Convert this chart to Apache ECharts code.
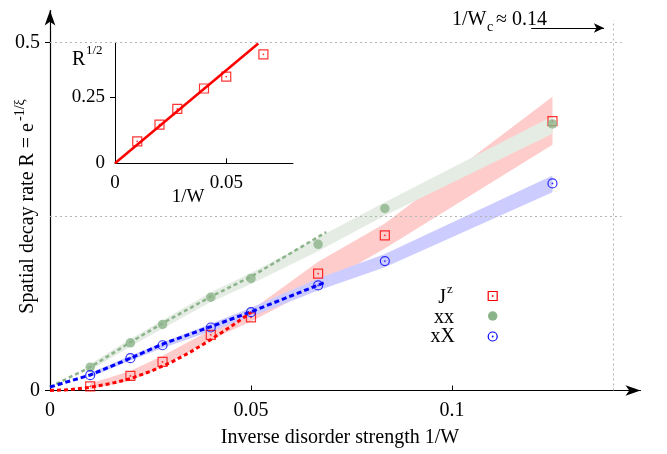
<!DOCTYPE html>
<html><head><meta charset="utf-8">
<script src="https://cdn.jsdelivr.net/npm/echarts@6/dist/echarts.min.js"></script>
<style>html,body{margin:0;padding:0;background:#fff}#c{width:667px;height:454px}</style>
</head><body><div id="c"></div>
<script>
// ---- data ----
const invW = [0.01, 0.02, 0.028, 0.04, 0.05, 0.0667, 0.0833, 0.125];
const Jz   = [0.006, 0.021, 0.041, 0.080, 0.105, 0.168, 0.223, 0.387];
const xx   = [0.0335, 0.0685, 0.095, 0.134, 0.161, 0.210, 0.2615, 0.383];
const xX   = [0.022, 0.0465, 0.065, 0.0905, 0.1125, 0.151, 0.186, 0.2975];

const JzLow  = [0.002, 0.014, 0.034, 0.073, 0.099, 0.149, 0.204, 0.353];
const JzHigh = [0.010, 0.028, 0.050, 0.087, 0.115, 0.185, 0.240, 0.422];
const xxLow  = [0.029, 0.063, 0.089, 0.127, 0.153, 0.200, 0.2515, 0.369];
const xxHigh = [0.038, 0.074, 0.101, 0.141, 0.169, 0.220, 0.2705, 0.394];
const xXLow  = [0.019, 0.043, 0.061, 0.085, 0.106, 0.1437, 0.177, 0.285];
const xXHigh = [0.025, 0.050, 0.069, 0.096, 0.119, 0.161, 0.196, 0.309];

const JzFitX = [0, 0.005, 0.01, 0.015, 0.02, 0.025, 0.03, 0.035, 0.04, 0.045, 0.05];
const JzFitY = [0, 0.0012, 0.0045, 0.0098, 0.017, 0.0275, 0.040, 0.0555, 0.073, 0.092, 0.112];
const xxFitX = [0, 0.01, 0.02, 0.028, 0.04, 0.05, 0.0687];
const xxFitY = [0.005, 0.0335, 0.0693, 0.0966, 0.1348, 0.1635, 0.2275];
const xXFitX = [0, 0.01, 0.02, 0.028, 0.04, 0.05, 0.0685];
const xXFitY = [0.005, 0.0223, 0.0463, 0.0668, 0.0917, 0.113, 0.1556];

const insetX = [0.01, 0.02, 0.028, 0.04, 0.05, 0.0667];
const insetSqrtR = [0.083, 0.1455, 0.205, 0.282, 0.327, 0.411];
const insetFitX = [0, 0.0644];
const insetFitY = [0, 0.452];

const xTickLabels = [0, 0.05, 0.1];
const yTickLabels = [0, 0.5];
const insetXTickLabels = [0, 0.05];
const insetYTickLabels = [0, 0.25];
const Wc = 0.14;

// ---- styling ----
const F = 'Liberation Serif';
const RED = '#ff0000', GREEN = '#8cb48a', BLUE = '#0000ff';
const pairs = (xs, ys) => xs.map((x, i) => [x, ys[i]]);

function band(xs, lo, hi, color, z) {
  return {
    type: 'custom', xAxisIndex: 0, yAxisIndex: 0, silent: true, z: z,
    data: xs.map((x, i) => [x, lo[i], hi[i]]),
    encode: { x: 0, y: [1, 2] },
    renderItem: function (params, api) {
      if (params.dataIndex !== 0) return null;
      const pts = [];
      for (let i = 0; i < xs.length; i++) pts.push(api.coord([xs[i], lo[i]]));
      for (let i = xs.length - 1; i >= 0; i--) pts.push(api.coord([xs[i], hi[i]]));
      return { type: 'polygon', shape: { points: pts }, style: { fill: color } };
    }
  };
}
function fit(xs, ys, color, width, dash) {
  return {
    type: 'line', xAxisIndex: 0, yAxisIndex: 0, data: pairs(xs, ys), symbol: 'none',
    silent: true, z: 6,
    lineStyle: { color: color, width: width, type: dash }
  };
}
function openMarks(xs, ys, symbol, color, xi) {
  return [{
    type: 'scatter', xAxisIndex: xi, yAxisIndex: xi, data: pairs(xs, ys), symbol: symbol,
    symbolSize: 9, silent: true, z: 5,
    itemStyle: { color: 'rgba(0,0,0,0)', borderColor: color, borderWidth: 1.2 }
  }, {
    type: 'scatter', xAxisIndex: xi, yAxisIndex: xi, data: pairs(xs, ys), symbol: 'circle',
    symbolSize: 1.8, silent: true, z: 5, itemStyle: { color: color }
  }];
}
function txt(x, y, text, size, align, extra) {
  return Object.assign({
    type: 'text', x: x, y: y, silent: true,
    style: { text: text, fontSize: size, fontFamily: F, fill: '#000',
      align: align || 'center', verticalAlign: 'middle',
      textAlign: align || 'center', textVerticalAlign: 'middle' }
  }, extra || {});
}

const axisFont = { fontSize: 20, fontFamily: F, color: '#000' };

const option = {
  animation: false,
  backgroundColor: '#fff',
  grid: [
    { left: 50, right: 26.5, top: 10.5, bottom: 63.5 },
    { left: 115, top: 43.3, width: 178, height: 120 }
  ],
  xAxis: [{
    type: 'value', gridIndex: 0, min: 0, max: 0.1469,
    axisLine: { show: true, symbol: ['none', 'arrow'], symbolSize: [8, 15], lineStyle: { color: '#000', width: 1.2 } },
    axisTick: { show: true, inside: true, length: 5, customValues: [0.05, 0.1], lineStyle: { color: '#000' } },
    axisLabel: Object.assign({ customValues: xTickLabels, margin: 10 }, axisFont),
    splitLine: { show: false }
  }, {
    type: 'value', gridIndex: 1, min: 0, max: 0.08,
    axisLine: { show: true, lineStyle: { color: '#000', width: 1 } },
    axisTick: { show: true, inside: true, length: 5, customValues: [0.05], lineStyle: { color: '#000' } },
    axisLabel: Object.assign({ customValues: insetXTickLabels, margin: 10 }, axisFont, { fontSize: 19 }),
    splitLine: { show: false }
  }],
  yAxis: [{
    type: 'value', gridIndex: 0, min: 0, max: 0.546,
    axisLine: { show: true, symbol: ['none', 'arrow'], symbolSize: [8, 15], lineStyle: { color: '#000', width: 1.2 } },
    axisTick: { show: true, inside: false, length: 5, customValues: [0, 0.5], lineStyle: { color: '#000' } },
    axisLabel: Object.assign({ customValues: yTickLabels, margin: 10 }, axisFont),
    splitLine: { show: false }
  }, {
    type: 'value', gridIndex: 1, min: 0, max: 0.4525,
    axisLine: { show: true, lineStyle: { color: '#000', width: 1 } },
    axisTick: { show: true, inside: false, length: 5, customValues: [0.25], lineStyle: { color: '#000' } },
    axisLabel: Object.assign({ customValues: insetYTickLabels, margin: 10 }, axisFont, { fontSize: 19 }),
    splitLine: { show: false }
  }],
  series: [
    band(invW, JzLow, JzHigh, '#ffcccc', 1),
    band(invW, xxLow, xxHigh, '#e4ece4', 2),
    band(invW, xXLow, xXHigh, '#ccccff', 3),
    Object.assign(fit(xxFitX, xxFitY, GREEN, 2.5, [4, 3]), {
      markLine: {
        silent: true, symbol: 'none', label: { show: false }, animation: false,
        lineStyle: { type: [2, 3], color: '#b4b4b4', width: 1 },
        emphasis: { disabled: true },
        data: [
          [{ coord: [0, 0.5] }, { coord: [0.1422, 0.5] }],
          [{ coord: [0, 0.25] }, { coord: [0.1422, 0.25] }],
          [{ coord: [Wc, 0] }, { coord: [Wc, 0.532] }]
        ]
      }
    }),
    Object.assign(fit(xXFitX, xXFitY, BLUE, 3, [5, 3]), {
      markLine: {
        silent: true, symbol: ['none', 'arrow'], symbolSize: [7, 10], label: { show: false }, animation: false,
        lineStyle: { type: 'solid', color: '#000', width: 1.2 },
        emphasis: { disabled: true },
        data: [[{ coord: [0.1197, 0.5208] }, { coord: [0.1378, 0.5208] }]]
      }
    }),
    fit(JzFitX, JzFitY, RED, 3, [4, 3]),
    ...openMarks(invW, Jz, 'rect', RED, 0),
    { type: 'scatter', xAxisIndex: 0, yAxisIndex: 0, data: pairs(invW, xx), symbol: 'circle',
      symbolSize: 9.5, silent: true, z: 5, itemStyle: { color: GREEN } },
    ...openMarks(invW, xX, 'circle', BLUE, 0),
    { type: 'line', xAxisIndex: 1, yAxisIndex: 1, data: pairs(insetFitX, insetFitY), symbol: 'none',
      silent: true, lineStyle: { color: RED, width: 2.5 } },
    ...openMarks(insetX, insetSqrtR, 'rect', RED, 1)
  ],
  graphic: [
    txt(340, 438, 'Inverse disorder strength 1/W', 20),
    { type: 'group', x: 28, y: 214, rotation: Math.PI / 2, silent: true, children: [
      txt(91, 0, 'Spatial decay rate R = e', 20, 'right'),
      txt(93, -8, '-1/ξ', 14, 'left')
    ] },
    txt(452, 20, '1/W', 20, 'left'),
    txt(487, 27, 'c', 14, 'left'),
    txt(496, 20, '≈ 0.14', 20, 'left'),
    txt(72, 60, 'R', 20, 'left'),
    txt(86, 51, '1/2', 13, 'left'),
    txt(188, 197, '1/W', 19),
    // legend
    txt(446, 298, 'J', 20, 'right'),
    txt(447, 290, 'z', 13, 'left'),
    txt(454, 318, 'xx', 20, 'right'),
    txt(455, 337, 'xX', 20, 'right'),
    { type: 'rect', x: 488.2, y: 291.5, silent: true, shape: { width: 9, height: 9 },
      style: { fill: 'none', stroke: RED, lineWidth: 1.2 } },
    { type: 'circle', x: 492.7, y: 296, silent: true, shape: { r: 0.9 }, style: { fill: RED } },
    { type: 'circle', x: 492.7, y: 316, silent: true, shape: { r: 4.75 }, style: { fill: GREEN } },
    { type: 'circle', x: 492.7, y: 336.5, silent: true, shape: { r: 4.5 }, style: { fill: 'none', stroke: BLUE, lineWidth: 1.2 } },
    { type: 'circle', x: 492.7, y: 336.5, silent: true, shape: { r: 0.9 }, style: { fill: BLUE } }
  ]
};

const chart = echarts.init(document.getElementById('c'), null, { renderer: 'canvas' });
chart.setOption(option);
</script>
</body></html>
